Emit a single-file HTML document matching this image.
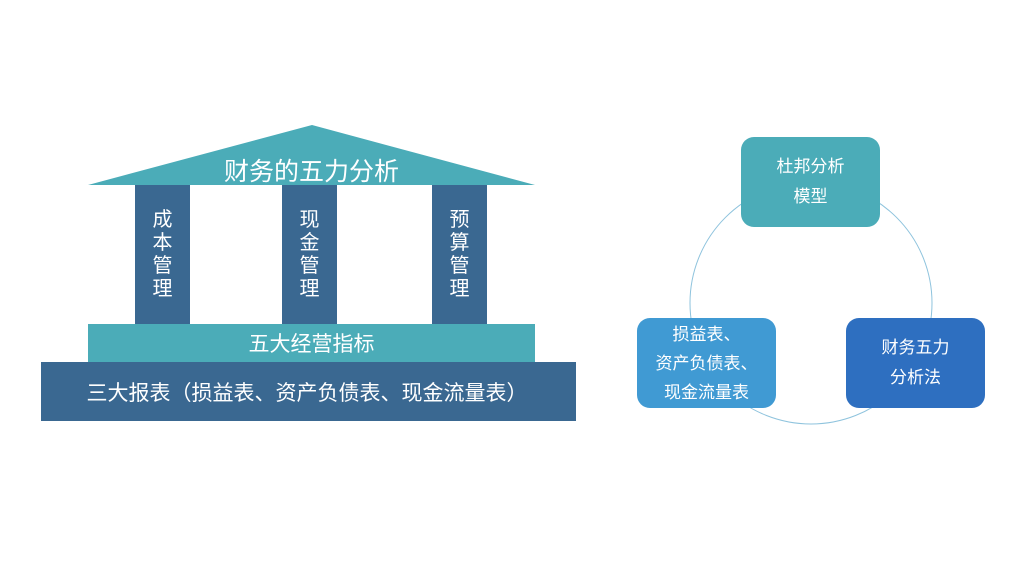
<!DOCTYPE html>
<html><head><meta charset="utf-8"><style>
body{margin:0;width:1024px;height:576px;background:#fff;overflow:hidden;position:relative;font-family:"Liberation Sans","Noto Sans CJK SC",sans-serif;color:#fff}
.a{position:absolute;box-sizing:border-box;display:flex;align-items:center;justify-content:center;text-align:center}
.p{background:#3A6891;width:55px;top:185px;height:140px;flex-direction:column;font-size:20px;line-height:23px}
.b{border-radius:13px;font-size:17px;line-height:30px;width:139px;height:90px}
</style></head><body>
<svg class="a" style="left:0;top:0" width="1024" height="576">
<polygon points="312,125 535,185 88,185" fill="#4BACB8"/>
<circle cx="811" cy="303" r="121" fill="none" stroke="#8EC3DD" stroke-width="1"/>
</svg>
<div class="a" style="left:88px;top:150px;width:447px;height:40px;font-size:25px">财务的五力分析</div>
<div class="a p" style="left:135px">成<br>本<br>管<br>理</div>
<div class="a p" style="left:282px">现<br>金<br>管<br>理</div>
<div class="a p" style="left:432px">预<br>算<br>管<br>理</div>
<div class="a" style="left:88px;top:324px;width:447px;height:38px;background:#4BACB8;font-size:21px">五大经营指标</div>
<div class="a" style="left:41px;top:362px;width:535px;height:59px;background:#3A6891;font-size:21px;padding-right:3px">三大报表（损益表、资产负债表、现金流量表）</div>
<div class="a b" style="left:741px;top:137px;background:#4BACB8">杜邦分析<br>模型</div>
<div class="a b" style="left:637px;top:318px;background:#409AD3;line-height:29px">损益表、<br>资产负债表、<br>现金流量表</div>
<div class="a b" style="left:846px;top:318px;background:#2E6FC0">财务五力<br>分析法</div>
</body></html>
